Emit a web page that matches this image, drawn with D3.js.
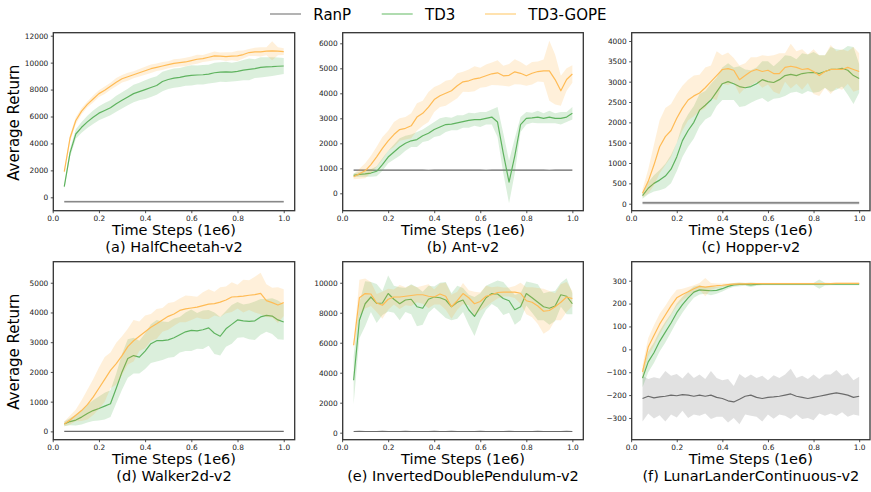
<!DOCTYPE html>
<html>
<head>
<meta charset="utf-8">
<script src="https://cdn.jsdelivr.net/npm/d3@7/dist/d3.min.js"></script>
<style>
  html, body { margin: 0; padding: 0; background: #fff; }
  svg { display: block; font-family: "DejaVu Sans", sans-serif; }
</style>
</head>
<body>
<svg id="chart" width="871" height="492"></svg>
<script>
// ---------------- DATA ----------------
const steps = [0.05,0.075,0.1,0.125,0.15,0.175,0.2,0.225,0.25,0.275,
               0.3,0.325,0.35,0.375,0.4,0.425,0.45,0.475,0.5,0.525,
               0.55,0.575,0.6,0.625,0.65,0.675,0.7,0.725,0.75,0.775,
               0.8,0.825,0.85,0.875,0.9,0.925,0.95,0.975,1.0];

const algorithms = ["RanP", "TD3", "TD3-GOPE"];
const envTitles = ["(a) HalfCheetah-v2", "(b) Ant-v2", "(c) Hopper-v2",
                   "(d) Walker2d-v2", "(e) InvertedDoublePendulum-v2", "(f) LunarLanderContinuous-v2"];
const xTicks = [0.0, 0.2, 0.4, 0.6, 0.8, 1.0];
const xLimits = [0.0025, 1.0475];
const yLimits = [[-995, 12223], [-696, 6424], [-172, 4204], [-280, 5708], [-468, 11404], [-395, 383]];
const yTicks = [
  [0, 2000, 4000, 6000, 8000, 10000, 12000],
  [0, 1000, 2000, 3000, 4000, 5000, 6000],
  [0, 500, 1000, 1500, 2000, 2500, 3000, 3500, 4000],
  [0, 1000, 2000, 3000, 4000, 5000],
  [0, 2000, 4000, 6000, 8000, 10000],
  [-300, -200, -100, 0, 100, 200, 300]
];

// (a) HalfCheetah
const aRan = [-330,-332,-331,-330,-329,-331,-330,-332,-330,-331,-330,-329,-331,-330,-332,-330,-331,-330,-329,-330,-331,-330,-332,-330,-331,-329,-330,-331,-330,-332,-330,-331,-330,-329,-331,-330,-332,-330,-331];
const aRanSd = [90,90,90,90,90,90,90,90,90,90,90,90,90,90,90,90,90,90,90,90,90,90,90,90,90,90,90,90,90,90,90,90,90,90,90,90,90,90,90];
const aTd3 = [790,3300,4700,5200,5600,5950,6250,6450,6650,6950,7200,7450,7700,7850,8000,8150,8300,8600,8750,8850,8900,9000,9050,9080,9100,9150,9250,9300,9320,9300,9350,9450,9500,9550,9650,9680,9700,9730,9750];
const aTd3Sd = [150,300,350,400,450,500,520,550,550,600,600,620,650,650,700,700,680,720,700,720,700,720,750,700,720,700,750,720,750,700,720,750,800,700,750,720,700,650,600];
const aGope = [1900,4400,5700,6400,6900,7300,7700,7950,8250,8550,8800,8950,9100,9250,9400,9550,9650,9750,9850,9950,10000,10050,10150,10250,10300,10400,10500,10480,10450,10480,10500,10600,10750,10800,10800,10850,10880,10850,10820];
const aGopeSd = [150,250,250,230,220,260,250,280,260,300,280,300,260,280,300,320,280,300,260,300,280,320,300,340,260,300,320,280,330,300,380,300,260,300,340,300,700,300,250];

// (b) Ant
const bRan = [925,924,926,925,923,925,926,924,925,925,926,924,925,923,925,926,925,924,925,926,925,924,925,923,925,926,924,925,925,924,926,925,924,925,923,925,924,925,924];
const bRanSd = [15,15,15,15,15,15,15,15,15,15,15,15,15,15,15,15,15,15,15,15,15,15,15,15,15,15,15,15,15,15,15,15,15,15,15,15,15,15,15];
const bTd3 = [720,760,780,810,880,1150,1450,1650,1850,2000,2100,2150,2300,2400,2550,2650,2750,2770,2820,2870,2920,2950,2950,3000,3050,2850,1600,450,1500,2750,3000,3020,3050,3000,3050,3000,3000,3050,3200];
const bTd3Sd = [80,100,120,150,200,250,250,300,350,300,250,300,250,300,300,350,300,250,300,250,300,250,300,250,300,600,800,850,700,300,250,200,250,200,250,200,250,200,250];
const bGope = [660,780,900,1150,1460,1800,2100,2350,2550,2600,2700,3050,3200,3450,3750,3900,4000,4100,4300,4460,4500,4580,4620,4700,4780,4820,4700,4720,4860,4800,4700,4800,4870,4900,4900,4550,4100,4550,4770];
const bGopeSd = [100,200,300,350,400,450,400,500,450,450,500,550,500,600,500,450,500,450,500,400,450,500,400,450,450,500,400,450,500,450,400,450,400,450,1200,1000,600,450,350];

// (c) Hopper
const cRan = [20,20,21,20,19,20,20,21,20,20,19,20,20,21,20,20,20,19,20,20,21,20,20,20,19,20,21,20,20,20,19,20,20,21,20,20,20,19,20];
const cRanSd = [40,40,40,40,40,40,40,40,40,40,40,40,40,40,40,40,40,40,40,40,40,40,40,40,40,40,40,40,40,40,40,40,40,40,40,40,40,40,40];
const cTd3 = [200,380,500,580,680,850,1150,1550,1800,2000,2300,2420,2550,2750,2950,3000,2950,2880,2850,2880,2950,3050,3000,2980,3050,3150,3180,3150,3200,3220,3230,3200,3250,3300,3300,3330,3280,3150,3080];
const cTd3Sd = [80,150,200,250,300,350,350,400,400,400,400,350,400,350,400,450,400,500,450,400,400,450,500,400,450,500,450,400,500,450,500,450,400,550,500,450,600,700,350];
const cGope = [256,550,950,1400,1650,1800,2100,2350,2550,2650,2720,2850,3000,3150,3300,3320,3280,3050,3150,3250,3300,3250,3280,3200,3200,3350,3380,3350,3300,3320,3250,3150,3250,3300,3300,3300,3350,3300,3250];
const cGopeSd = [100,300,500,650,700,650,600,550,500,500,450,500,400,600,350,400,300,350,300,350,300,400,350,450,500,350,550,400,500,350,550,500,400,600,450,500,400,550,450];

// (d) Walker2d
const dRan = [0,1,0,-1,0,0,1,0,0,-1,0,0,1,0,0,0,-1,0,0,1,0,0,0,-1,0,0,1,0,0,0,0,-1,0,0,1,0,0,0,0];
const dRanSd = [10,10,10,10,10,10,10,10,10,10,10,10,10,10,10,10,10,10,10,10,10,10,10,10,10,10,10,10,10,10,10,10,10,10,10,10,10,10,10];
const dTd3 = [250,330,380,480,600,700,770,850,930,1450,2000,2450,2550,2500,2700,2950,3050,3050,3080,3150,3250,3350,3400,3380,3420,3480,3300,3200,3450,3600,3750,3720,3700,3720,3850,3900,3880,3750,3680];
const dTd3Sd = [80,120,180,250,300,350,400,450,450,500,600,650,600,550,600,650,700,650,600,650,600,650,700,600,650,600,700,650,600,650,600,550,600,650,600,550,600,650,600];
const dGope = [250,380,540,700,900,1150,1450,1750,2050,2280,2550,2850,3050,3200,3350,3500,3620,3750,3870,3950,4070,4120,4150,4180,4230,4280,4300,4350,4420,4520,4530,4550,4580,4600,4640,4400,4330,4250,4330];
const dGopeSd = [80,150,200,350,500,600,700,750,600,700,650,600,700,500,550,450,500,400,450,400,400,450,400,350,450,500,400,500,450,500,400,550,500,600,700,550,500,600,450];

// (e) InvertedDoublePendulum
const eRan = [80,81,79,80,80,82,80,79,80,81,80,80,79,80,81,80,80,82,80,79,80,80,81,80,79,80,80,81,80,80,79,80,81,80,80,79,80,81,80];
const eRanSd = [10,10,10,10,10,10,10,10,10,10,10,10,10,10,10,10,10,10,10,10,10,10,10,10,10,10,10,10,10,10,10,10,10,10,10,10,10,10,10];
const eTd3 = [3500,7500,8600,9050,8620,8650,9280,8900,8600,8850,8900,8400,8300,8900,9050,9000,8850,8400,8700,8850,8200,7750,8400,9000,9280,9250,8950,8800,8200,8400,9280,9000,8700,8400,8300,8450,9200,9100,8600];
const eTd3Sd = [1600,1200,1500,1000,1300,800,1200,900,1100,800,1000,1300,1100,900,700,1000,1200,900,1100,800,1000,1300,900,800,700,900,1100,800,1000,900,800,1000,1200,900,1100,1000,800,1200,700];
const eGope = [5830,9000,9280,9250,8650,8500,8900,9050,9050,9100,9150,9200,9200,9100,9050,9250,9100,8400,8800,9280,9000,8600,8750,9100,9200,9350,9380,9380,9380,9300,8800,8700,8450,8100,8150,8400,8700,9050,8950];
const eGopeSd = [200,1200,1000,800,600,900,700,500,800,600,700,500,600,800,500,700,900,800,600,700,500,800,600,700,500,400,300,300,400,700,900,1000,1200,1500,1300,900,1200,1000,500];

// (f) LunarLanderContinuous
const fRan = [-215,-205,-212,-208,-205,-200,-203,-198,-200,-205,-200,-205,-200,-210,-215,-225,-230,-218,-205,-200,-210,-215,-210,-208,-205,-200,-195,-205,-210,-215,-210,-205,-200,-195,-190,-195,-200,-210,-205];
const fRanSd = [100,75,90,80,110,85,95,70,100,80,90,75,105,85,80,95,70,110,80,90,85,100,75,95,80,90,110,80,95,85,100,75,90,85,100,80,95,75,85];
const fTd3 = [-126,-55,-15,35,75,115,160,195,225,250,260,258,256,258,265,275,282,284,284,282,284,285,285,285,285,285,285,285,285,285,285,285,285,285,285,285,285,285,285];
const fTd3Sd = [40,45,45,45,45,40,40,35,30,25,20,15,20,15,12,10,8,8,6,10,6,5,5,5,5,5,5,5,5,5,5,20,6,5,5,5,5,5,5];
const fGope = [-99,10,60,110,150,190,225,240,252,265,275,272,275,278,280,283,285,286,286,287,287,287,287,287,287,287,287,287,287,287,287,287,287,287,288,288,288,288,288];
const fGopeSd = [30,40,45,45,40,40,35,25,20,15,15,40,15,10,8,6,5,5,5,4,4,4,4,4,4,4,4,4,4,4,4,4,4,4,4,4,4,4,4];

// ---------------- ASSEMBLY ----------------
const panelData = [
  [[aRan, aRanSd], [aTd3, aTd3Sd], [aGope, aGopeSd]],
  [[bRan, bRanSd], [bTd3, bTd3Sd], [bGope, bGopeSd]],
  [[cRan, cRanSd], [cTd3, cTd3Sd], [cGope, cGopeSd]],
  [[dRan, dRanSd], [dTd3, dTd3Sd], [dGope, dGopeSd]],
  [[eRan, eRanSd], [eTd3, eTd3Sd], [eGope, eGopeSd]],
  [[fRan, fRanSd], [fTd3, fTd3Sd], [fGope, fGopeSd]]
];

const lineColor = { "RanP": "#6b6b6b", "TD3": "#5fb35f", "TD3-GOPE": "#ffbb55" };
const bandColor = { "RanP": "#a8a8a8", "TD3": "#4caf50", "TD3-GOPE": "#ffa726" };
const bandOpacity = { "RanP": 0.35, "TD3": 0.2, "TD3-GOPE": 0.17 };
const legendColor = { "RanP": "#ababab", "TD3": "#a8d9a8", "TD3-GOPE": "#ffdfa6" };

const colLeft = [53.3, 342.7, 631.7];
const colWidth = [241.4, 240.6, 238.3];
const rowTop = [32.7, 261.7];
const plotH = 178;

const svg = d3.select("#chart");
const fmtX = d3.format(".1f");

panelData.forEach((series, i) => {
  const col = i % 3, row = Math.floor(i / 3);
  const x0 = colLeft[col], y0 = rowTop[row], w = colWidth[col], h = plotH;
  const g = svg.append("g").attr("transform", `translate(${x0},${y0})`);
  const x = d3.scaleLinear().domain(xLimits).range([0, w]);
  const y = d3.scaleLinear().domain(yLimits[i]).range([h, 0]);

  const clipId = "clip" + i;
  g.append("clipPath").attr("id", clipId).append("rect").attr("width", w).attr("height", h);
  const plot = g.append("g").attr("clip-path", `url(#${clipId})`);

  series.forEach(([mean, sd], k) => {
    const name = algorithms[k];
    const pts = steps.map((t, j) => ({ t, m: mean[j], s: sd[j] }));
    const area = d3.area().x(d => x(d.t)).y0(d => y(d.m - d.s)).y1(d => y(d.m + d.s));
    const line = d3.line().x(d => x(d.t)).y(d => y(d.m));
    plot.append("path").attr("d", area(pts))
      .attr("fill", bandColor[name]).attr("fill-opacity", bandOpacity[name]).attr("stroke", "none");
    plot.append("path").attr("d", line(pts))
      .attr("fill", "none").attr("stroke", lineColor[name]).attr("stroke-width", 1.2)
      .attr("stroke-linejoin", "round");
  });

  // axes
  const xAxis = d3.axisBottom(x).tickValues(xTicks).tickFormat(fmtX).tickSize(2.5).tickPadding(2.5);
  const yAxis = d3.axisLeft(y).tickValues(yTicks[i]).tickFormat(d3.format("d")).tickSize(2.5).tickPadding(2.5);
  const gx = g.append("g").attr("transform", `translate(0,${h})`).call(xAxis);
  const gy = g.append("g").call(yAxis);
  [gx, gy].forEach(ax => {
    ax.select(".domain").remove();
    ax.selectAll("text").attr("font-size", "7.4px").attr("fill", "#222").attr("font-family", "DejaVu Sans, sans-serif");
    ax.selectAll("line").attr("stroke", "#222").attr("stroke-width", 0.8);
  });

  // frame
  g.append("rect").attr("width", w).attr("height", h)
    .attr("fill", "none").attr("stroke", "#333").attr("stroke-width", 1.3);

  // x label and subtitle
  svg.append("text").attr("x", x0 + w / 2).attr("y", y0 + h + 24.5)
    .attr("text-anchor", "middle").attr("font-size", "14.5px").attr("fill", "#000")
    .text("Time Steps (1e6)");
  svg.append("text").attr("x", x0 + w / 2).attr("y", y0 + h + 41)
    .attr("text-anchor", "middle").attr("font-size", "14.5px").attr("fill", "#000")
    .text(envTitles[i]);

  if (col === 0) {
    svg.append("text")
      .attr("transform", `translate(18.5,${y0 + h / 2 + 1}) rotate(-90)`)
      .attr("text-anchor", "middle").attr("font-size", "15px").attr("fill", "#000")
      .text("Average Return");
  }
});

// legend
const legendX = [270, 381.7, 485];
const legend = svg.append("g");
algorithms.forEach((name, k) => {
  legend.append("line").attr("x1", legendX[k]).attr("x2", legendX[k] + 31)
    .attr("y1", 14).attr("y2", 14).attr("stroke", legendColor[name]).attr("stroke-width", 1.8);
  legend.append("text").attr("x", legendX[k] + 43.3).attr("y", 19.5)
    .attr("font-size", "15px").attr("fill", "#000").text(name);
});
</script>
</body>
</html>
